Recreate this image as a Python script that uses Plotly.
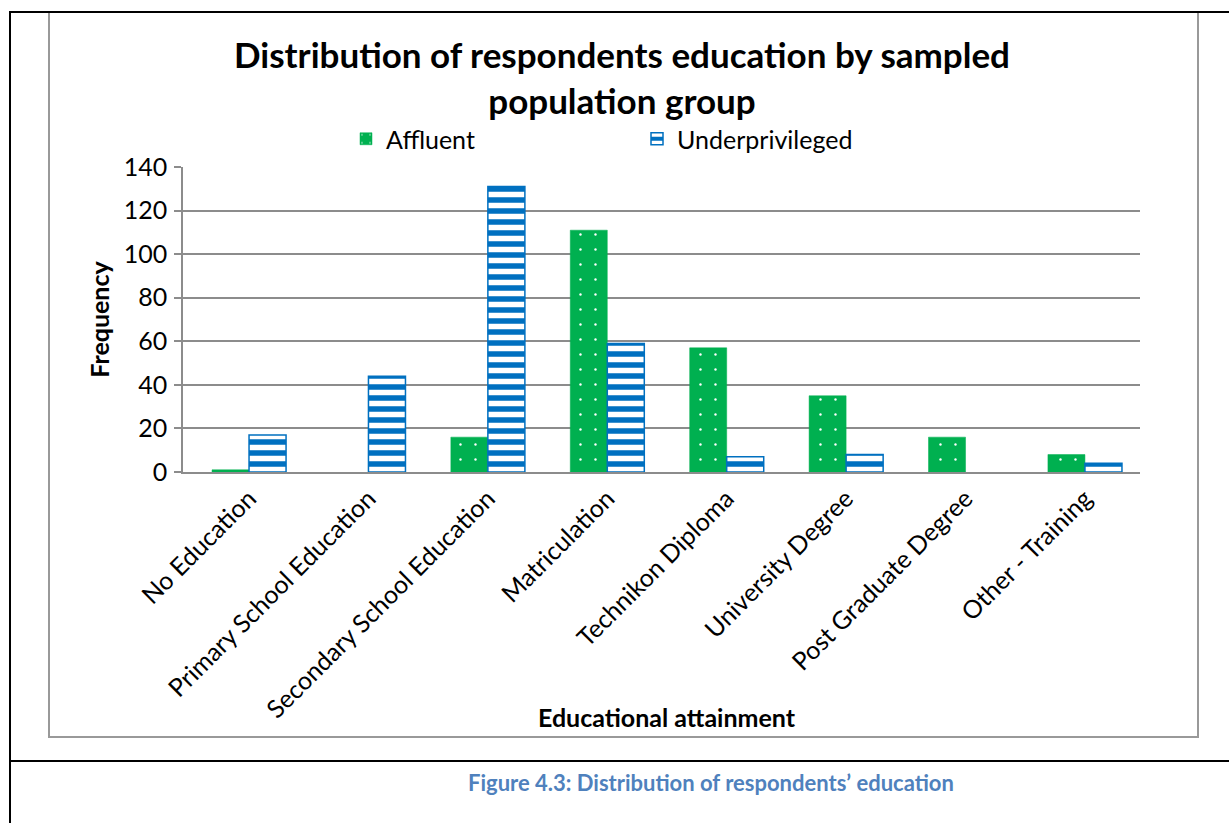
import plotly.graph_objects as go

# Survey results: educational attainment by population group
categories = [
    "No Education",
    "Primary School Education",
    "Secondary School Education",
    "Matriculation",
    "Technikon Diploma",
    "University Degree",
    "Post Graduate Degree",
    "Other - Training",
]
affluent = [1, 0, 16, 111, 57, 35, 16, 8]
underprivileged = [17, 44, 131, 59, 7, 8, 0, 4]
y_ticks = [0, 20, 40, 60, 80, 100, 120, 140]

W, H = 1229, 823
L, R, T, B = 183, 1140, 167, 472  # plot area in pixels

FONT = "Lato, 'Open Sans', sans-serif"
GREEN = "#00B050"
BLUE = "#0070C0"
GRID = "#8C8C8C"


def px_x(px):
    return (px - L) / (R - L)


def px_y(py):
    return (B - py) / (B - T)


def outline(values, width):
    # no outline on empty bars, so a zero count leaves no mark
    return [width if v > 0 else 0 for v in values]


fig = go.Figure()
fig.add_trace(go.Bar(
    name="Affluent",
    x=categories,
    y=affluent,
    marker=dict(
        color=GREEN,
        line=dict(color=GREEN, width=outline(affluent, 0.5)),
        pattern=dict(shape=".", fgcolor="#FFFFFF", bgcolor=GREEN,
                     size=15, solidity=0.02, fillmode="replace"),
    ),
))
fig.add_trace(go.Bar(
    name="Underprivileged",
    x=categories,
    y=underprivileged,
    marker=dict(
        color=BLUE,
        line=dict(color=BLUE, width=outline(underprivileged, 1.5)),
        pattern=dict(shape="-", fgcolor="#FFFFFF", bgcolor=BLUE,
                     size=11, solidity=0.5, fillmode="replace"),
    ),
))

# Frame lines around the chart and the caption cell
shapes = [
    dict(type="rect", xref="paper", yref="paper",
         x0=px_x(49), x1=px_x(1198), y0=px_y(737), y1=px_y(12),
         line=dict(color="#999999", width=2), layer="below"),
    dict(type="line", xref="paper", yref="paper",
         x0=px_x(9), x1=px_x(1229), y0=px_y(12), y1=px_y(12),
         line=dict(color="#000000", width=2)),
    dict(type="line", xref="paper", yref="paper",
         x0=px_x(10), x1=px_x(10), y0=px_y(12), y1=px_y(823),
         line=dict(color="#000000", width=2)),
    dict(type="line", xref="paper", yref="paper",
         x0=px_x(10), x1=px_x(1229), y0=px_y(761), y1=px_y(761),
         line=dict(color="#000000", width=2)),
]

annotations = [
    dict(text="<b>Educational attainment</b>", xref="paper", yref="paper",
         x=px_x(667), y=px_y(717), showarrow=False,
         xanchor="center", yanchor="middle",
         font=dict(family=FONT, size=25, color="#000000")),
    dict(text="<b>Figure 4.3: Distribution of respondents’ education</b>",
         xref="paper", yref="paper",
         x=px_x(711), y=px_y(783), showarrow=False,
         xanchor="center", yanchor="middle",
         font=dict(family=FONT, size=22, color="#4F81BD")),
]

fig.update_layout(
    width=W, height=H,
    margin=dict(l=L, r=W - R, t=T, b=H - B, pad=0),
    paper_bgcolor="#FFFFFF",
    plot_bgcolor="#FFFFFF",
    font=dict(family=FONT, size=25, color="#000000"),
    title=dict(
        text="<b>Distribution of respondents education by sampled<br>population group</b>",
        x=622 / W, xanchor="center",
        y=1 - 68 / H, yanchor="middle",
        font=dict(family=FONT, size=35, color="#000000"),
    ),
    barmode="group",
    bargap=0.38,
    bargroupgap=0.0,
    showlegend=True,
    legend=dict(
        orientation="h",
        x=px_x(346), xanchor="left",
        y=px_y(139), yanchor="middle",
        entrywidth=246, entrywidthmode="pixels",
        font=dict(family=FONT, size=25, color="#000000"),
        bgcolor="rgba(0,0,0,0)",
        itemclick=False,
    ),
    shapes=shapes,
    annotations=annotations,
)

fig.update_xaxes(
    type="category",
    range=[-0.553, 7.461],
    tickangle=-45,
    showgrid=False,
    showline=True, linecolor=GRID, linewidth=2,
    ticks="",
    tickfont=dict(family=FONT, size=25, color="#000000"),
    automargin=False,
)
fig.update_yaxes(
    range=[0, 140],
    tickvals=y_ticks,
    ticktext=[str(v) for v in y_ticks],
    showgrid=True, gridcolor=GRID, gridwidth=1.5,
    showline=True, linecolor=GRID, linewidth=1.5,
    ticks="outside", ticklen=7, tickcolor=GRID, tickwidth=1.5,
    ticklabelstandoff=2,
    tickfont=dict(family=FONT, size=25, color="#000000"),
    zeroline=False,
    title=dict(text="<b>Frequency</b>", standoff=7,
               font=dict(family=FONT, size=25, color="#000000")),
    automargin=False,
)

fig.write_html("out.html")
